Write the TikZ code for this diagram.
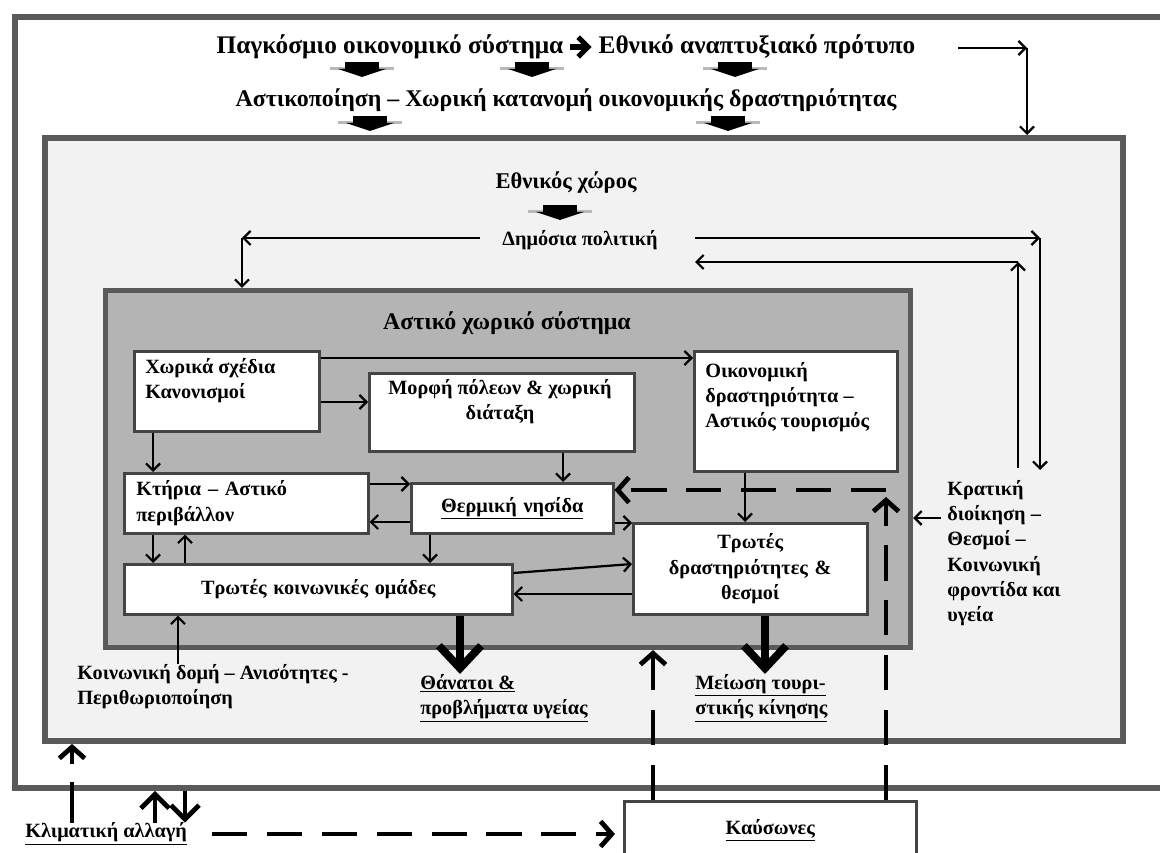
\documentclass[tikz,border=0pt]{standalone}
\usepackage{fontspec}
\setmainfont{Liberation Serif}
\usepackage{tikz}
\usetikzlibrary{arrows.meta}
\usetikzlibrary{positioning}
\newlength{\unitpx}
\setlength{\unitpx}{0.025cm}
\definecolor{frameline}{HTML}{5A5A5A}
\definecolor{boxline}{HTML}{444444}
\definecolor{nationfill}{HTML}{F2F2F2}
\definecolor{urbanfill}{HTML}{B4B4B4}
\tikzstyle{frame}=[draw=frameline, line width=4.2pt, inner sep=0pt, anchor=north west]
\tikzstyle{box}=[draw=boxline, fill=white, line width=1.8pt, inner xsep=12\unitpx, inner ysep=0pt, anchor=north west, font=\fontsize{14.4}{18}\selectfont\bfseries]
\tikzstyle{boxtext}=[inner sep=0pt, font=\fontsize{14.4}{18}\selectfont\bfseries]
\tikzstyle{toptext}=[inner sep=2pt, font=\fontsize{18}{22}\selectfont\bfseries]
\tikzstyle{labeltext}=[inner sep=0pt, align=left, font=\fontsize{14.4}{18}\selectfont\bfseries]
\tikzstyle{arr}=[line width=1.6pt, -{Straight Barb[length=5pt,width=10pt]}]
\tikzstyle{midarr}=[line width=3.6pt, -{Straight Barb[length=7pt,width=14pt]}]
\tikzstyle{bigarr}=[line width=5.6pt, -{Straight Barb[length=16pt,width=30pt]}]
\tikzstyle{updown}=[line width=3.4pt, -{Straight Barb[length=10pt,width=20pt]}]
\tikzstyle{dasharr}=[line width=3.4pt, dash pattern=on 25pt off 14pt, -{Straight Barb[length=8pt,width=18pt]}]
\tikzset{flatarrow/.pic={
  \fill[gray!55] (-32,-1) rectangle (32,2);
  \fill[black] (-17,-6) rectangle (17,1);
  \fill[black] (-24,1) -- (24,1) -- (0,9) -- cycle;
}}

\begin{document}
\begin{tikzpicture}[x=0.025cm, y=-0.025cm]
\useasboundingbox (0,0) rectangle (1160,853);
% frames
\node[frame, fill=white, minimum width=1160\unitpx, minimum height=771\unitpx] (globalbox) at (12,14) {};
\node[frame, fill=nationfill, minimum width=1078\unitpx, minimum height=603\unitpx] (nationbox) at (42,135) {};
\node[frame, fill=urbanfill, line width=3.6pt, minimum width=805\unitpx, minimum height=357\unitpx] (urbanbox) at (103,288) {};
% global level
\node[toptext] (world) at (390,47) {Παγκόσμιο οικονομικό σύστημα};
\node[toptext] (devmodel) at (757,47) {Εθνικό αναπτυξιακό πρότυπο};
\draw[midarr, shorten <=4\unitpx, shorten >=4\unitpx] (world.east) -- (devmodel.west);
\node[toptext, font=\fontsize{17}{22}\selectfont\bfseries] (urbanisation) at (566,100) {Αστικοποίηση – Χωρική κατανομή οικονομικής δραστηριότητας};
\pic at (362,68) {flatarrow};
\pic at (532,68) {flatarrow};
\pic at (735,68) {flatarrow};
\pic at (370,122) {flatarrow};
\pic at (728,122) {flatarrow};
\coordinate (topstart) at (958,48);
\coordinate (topcorner) at (1027,48);
\draw[arr] (topstart) -- (topcorner);
\draw[arr] (topcorner) -- (topcorner |- nationbox.north);
% national level
\node[toptext, font=\fontsize{16}{20}\selectfont\bfseries] (nationspace) at (566,183) {Εθνικός χώρος};
\pic at (560,211) {flatarrow};
\node[labeltext] (policy) at (580,240) {Δημόσια πολιτική};
\coordinate (polleft) at (242,238);
\coordinate (polright) at (1040,238);
\coordinate (polback) at (695,262);
\coordinate (backcorner) at (1018,262);
\coordinate (stateup) at (1018,468);
\coordinate (statedown) at (1040,470);
\draw[arr] ([xshift=-22\unitpx]policy.west |- polleft) -- (polleft);
\draw[arr] (polleft) -- (polleft |- urbanbox.north);
\draw[arr] (polback |- polright) -- (polright);
\draw[arr] (polright) -- (statedown);
\draw[arr] (stateup) -- (backcorner);
\draw[arr] (backcorner) -- (polback);
\node[labeltext, anchor=north west] (state) at (947,480) {Κρατική\\διοίκηση –\\Θεσμοί –\\Κοινωνική\\φροντίδα και\\υγεία};
\draw[arr] ([xshift=-6\unitpx]state.west |- 0,518) -- (urbanbox.east |- 0,518);
% urban level
\node[toptext, font=\fontsize{17}{20}\selectfont\bfseries] (urbantitle) at (507,323) {Αστικό χωρικό σύστημα};
\node[box, minimum width=185\unitpx, minimum height=80\unitpx] (plan) at (133,350) {};
\node[boxtext, anchor=north west, align=left] (plantext) at (145,358) {Χωρικά σχέδια\\Κανονισμοί};
\node[box, minimum width=265\unitpx, minimum height=78\unitpx] (form) at (368,372) {};
\node[boxtext, anchor=north, align=center] (formtext) at (500,379) {Μορφή πόλεων \& χωρική\\διάταξη};
\node[box, minimum width=203\unitpx, minimum height=120\unitpx] (econ) at (693,350) {};
\node[boxtext, anchor=north west, align=left] (econtext) at (705,362) {Οικονομική\\δραστηριότητα –\\Αστικός τουρισμός};
\node[box, text width=220\unitpx, align=left, minimum height=60\unitpx] (bldg) at (123,472) {Κτήρια – Αστικό\\περιβάλλον};
\node[box, text width=178\unitpx, align=center, minimum height=50\unitpx] (heat) at (410,482) {\underline{Θερμική νησίδα}};
\node[box, text width=210\unitpx, align=center, minimum height=91\unitpx] (vact) at (632,522) {Τρωτές\\δραστηριότητες \&\\θεσμοί};
\node[box, text width=364\unitpx, align=center, minimum height=50\unitpx] (vgrp) at (123,563) {Τρωτές κοινωνικές ομάδες};
\draw[arr] (plan.east |- 0,358) -- (econ.west |- 0,358);
\draw[arr] (plan.east |- 0,402) -- (form.west |- 0,402);
\draw[arr] (plan.south -| 153,0) -- (bldg.north -| 153,0);
\draw[arr] (form.south -| 563,0) -- (heat.north -| 563,0);
\draw[arr] (bldg.east |- 0,484) -- (heat.west |- 0,484);
\draw[arr] (heat.west |- 0,522) -- (bldg.east |- 0,522);
\draw[arr] (heat.east |- 0,523) -- (vact.west |- 0,523);
\draw[arr] (heat.south -| 430,0) -- (vgrp.north -| 430,0);
\draw[arr] (bldg.south -| 153,0) -- (vgrp.north -| 153,0);
\draw[arr] (vgrp.north -| 185,0) -- (bldg.south -| 185,0);
\draw[arr] (vgrp.east |- 0,573) -- (vact.west |- 0,564);
\draw[arr] (vact.west |- 0,594) -- (vgrp.east |- 0,594);
\draw[arr] (econ.south -| 745,0) -- (vact.north -| 745,0);
% outcomes
\node[labeltext, anchor=north west] (deaths) at (420,674) {\underline{Θάνατοι \&}\\\underline{προβλήματα υγείας}};
\node[labeltext, anchor=north west] (tourism) at (695,674) {\underline{Μείωση τουρι-}\\\underline{στικής κίνησης}};
\node[labeltext, anchor=north west] (social) at (77,664) {Κοινωνική δομή – Ανισότητες -\\Περιθωριοποίηση};
\draw[bigarr] (vgrp.south -| 460,0) -- (deaths.north -| 460,0);
\draw[bigarr] (vact.south -| 765,0) -- (tourism.north -| 765,0);
\draw[arr] (social.north -| 178,0) -- (vgrp.south -| 178,0);
% climate
\node[labeltext, anchor=west] (climate) at (25,834) {\underline{Κλιματική αλλαγή}};
\node[box, align=center, minimum width=292\unitpx, minimum height=58\unitpx] (heatwave) at (623,800) {\underline{Καύσωνες}};
\coordinate (heatcorner) at (886,490);
\draw[dasharr, shorten <=25\unitpx, shorten >=8\unitpx] (climate.east) -- (heatwave.west |- climate.east);
\draw[dasharr] (heatwave.north -| 653,0) -- (urbanbox.south -| 653,0);
\draw[dasharr] (heatwave.north -| heatcorner) -- (886,497);
\draw[dasharr] (heatcorner) -- (heat.east |- heatcorner);
\draw[dasharr, dash pattern=on 29pt off 13pt] (climate.north -| 72,0) -- (nationbox.south -| 72,0);
\draw[updown] (climate.north -| 155,0) -- (globalbox.south -| 155,0);
\draw[updown] (globalbox.south -| 185,0) -- (climate.north -| 185,0);
\end{tikzpicture}
\end{document}
